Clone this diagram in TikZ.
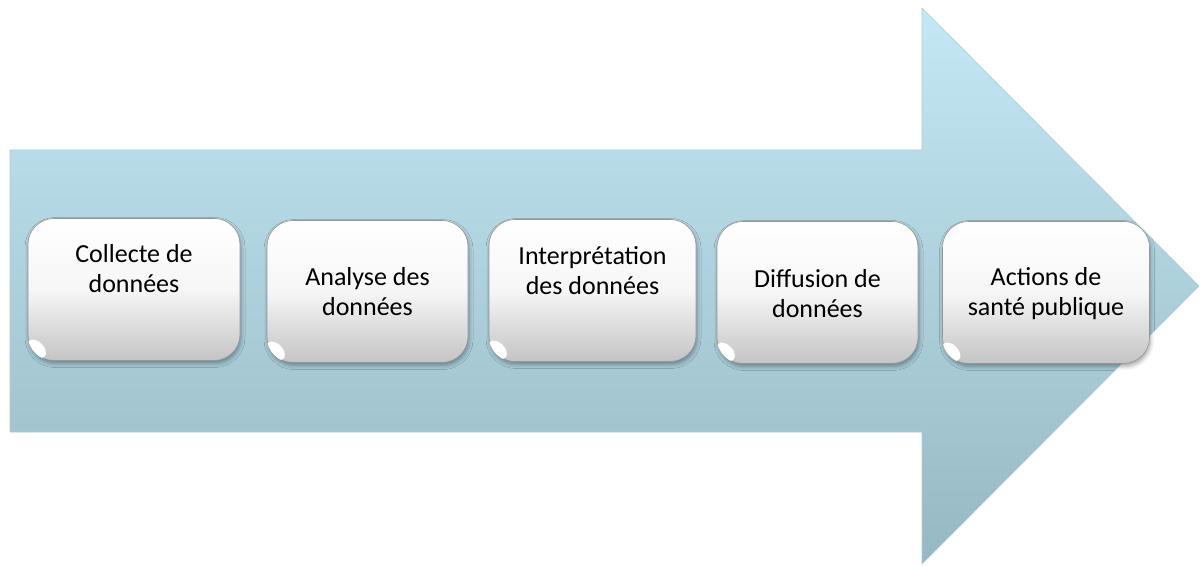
\documentclass[tikz,border=0pt]{standalone}
\usepackage{fontspec}
\setmainfont{Carlito}
\usetikzlibrary{shadows.blur,calc}
\definecolor{arrtop}{RGB}{196,233,244}
\definecolor{arrbot}{RGB}{150,184,195}
\definecolor{arredge}{RGB}{170,205,215}
\definecolor{boxbot}{RGB}{196,196,196}
\definecolor{boxedge}{RGB}{150,150,150}
\tikzset{
  stagebox/.style={rounded corners=26pt, top color=white, bottom color=boxbot,
    middle color=white!85!boxbot,
    draw=boxedge, line width=0.6pt, minimum width=#1, minimum height=142pt,
    inner sep=0pt,
    blur shadow={shadow xshift=1pt, shadow yshift=-3pt, shadow blur radius=4pt, shadow opacity=35}},
  stagetext/.style={font=\fontsize{26}{30}\selectfont, align=center, text=black, inner sep=0pt},
  gloss/.style={fill=white, draw=none}
}
\begin{document}
\begin{tikzpicture}[x=1pt,y=-1pt]
\useasboundingbox (0,0) rectangle (1200,567);
% big arrow
\shade[top color=arrtop, bottom color=arrbot, draw=arredge, line width=0.6pt]
  (10,150) -- (922,150) -- (922,8) -- (1199,286) -- (922,564) -- (922,432) -- (10,432) -- cycle;
% stage boxes
\node[stagebox=212pt] (b1) at (134,289.5) {};
\node[stagebox=201pt] (b2) at (367.5,291.5) {};
\node[stagebox=207pt] (b3) at (592.5,290.5) {};
\node[stagebox=201pt] (b4) at (817.5,292.5) {};
\node[stagebox=207pt] (b5) at (1046,292.5) {};
% corner highlights
\foreach \b in {b1,b2,b3,b4,b5}{
  \begin{scope}
    \clip[rounded corners=26pt] (\b.south west) rectangle (\b.north east);
    \coordinate (g) at ($(\b.south west)+(9,-12)$);
    \fill[gloss, rotate around={-45:(g)}] (g) ellipse [x radius=11pt, y radius=7pt];
    \fill[white, opacity=0.6, rounded corners=6pt] ($(\b.north west)+(14,3)$) rectangle ($(\b.north east)+(-14,14)$);
  \end{scope}
}
% texts
\node[stagetext] (t1) at (134,269) {Collecte de\\données};
\node[stagetext] (t2) at (367.5,291.5) {Analyse des\\données};
\node[stagetext] (t3) at (592.5,271) {Interprétation\\des données};
\node[stagetext] (t4) at (817.5,293.5) {Diffusion de\\données};
\node[stagetext] (t5) at (1046,293.5) {Actions de\\santé publique};
\end{tikzpicture}
\end{document}
